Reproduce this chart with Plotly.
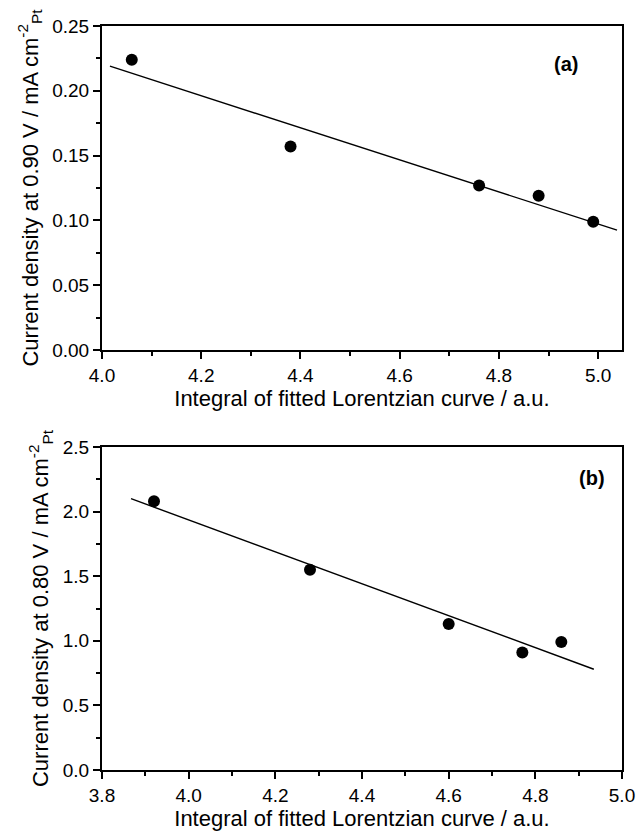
import plotly.graph_objects as go

# Panel (a)
a_x = [4.06, 4.38, 4.76, 4.88, 4.99]
a_y = [0.224, 0.157, 0.127, 0.119, 0.099]
a_fit_x = [4.016, 5.038]
a_fit_y = [0.219, 0.0925]

# Panel (b)
b_x = [3.92, 4.28, 4.60, 4.77, 4.86]
b_y = [2.08, 1.55, 1.13, 0.91, 0.99]
b_fit_x = [3.867, 4.935]
b_fit_y = [2.10, 0.78]

W, H = 636, 831
FONT = "Liberation Sans, Arial, sans-serif"
TICK_SIZE = 19
TITLE_SIZE = 22

fig = go.Figure()
marker = dict(color="black", size=12)
fig.add_trace(go.Scatter(x=a_fit_x, y=a_fit_y, mode="lines", line=dict(color="black", width=1.4),
                         xaxis="x", yaxis="y", showlegend=False))
fig.add_trace(go.Scatter(x=a_x, y=a_y, mode="markers", marker=marker, xaxis="x", yaxis="y", showlegend=False))
fig.add_trace(go.Scatter(x=b_fit_x, y=b_fit_y, mode="lines", line=dict(color="black", width=1.4),
                         xaxis="x2", yaxis="y2", showlegend=False))
fig.add_trace(go.Scatter(x=b_x, y=b_y, mode="markers", marker=marker, xaxis="x2", yaxis="y2", showlegend=False))

xdom = [102 / W, 622 / W]
ydom_a = [1 - 350 / H, 1 - 26 / H]
ydom_b = [1 - 770 / H, 1 - 447 / H]

def axis_style(**kw):
    d = dict(showline=True, linecolor="black", linewidth=2, mirror=True,
             ticks="outside", ticklen=7, tickwidth=1.5, tickcolor="black",
             showgrid=False, zeroline=False, automargin=False,
             tickfont=dict(family=FONT, size=TICK_SIZE, color="black"),
             minor=dict(ticks="outside", ticklen=4, tickwidth=1.5, tickcolor="black", showgrid=False))
    d.update(kw)
    return d

xtitle = "Integral of fitted Lorentzian curve / a.u."
fig.update_layout(
    width=W, height=H,
    margin=dict(l=0, r=0, t=0, b=0),
    paper_bgcolor="white", plot_bgcolor="white",
    xaxis=axis_style(domain=xdom, anchor="y", range=[4.0, 5.048], tick0=4.0, dtick=0.2,
                     tickformat=".1f", minor_dtick=0.1,
                     title=dict(text=xtitle, font=dict(family=FONT, size=TITLE_SIZE, color="black"), standoff=5)),
    yaxis=axis_style(domain=ydom_a, anchor="x", range=[0, 0.25], tick0=0, dtick=0.05,
                     tickformat=".2f", minor_dtick=0.025,
                     title=dict(text="Current density at 0.90 V / mA cm<sup>-2</sup><sub>Pt</sub>",
                                font=dict(family=FONT, size=TITLE_SIZE, color="black"), standoff=8)),
    xaxis2=axis_style(domain=xdom, anchor="y2", range=[3.8, 5.0], tick0=3.8, dtick=0.2,
                      tickformat=".1f", minor_dtick=0.1,
                      title=dict(text=xtitle, font=dict(family=FONT, size=TITLE_SIZE, color="black"), standoff=5)),
    yaxis2=axis_style(domain=ydom_b, anchor="x2", range=[0, 2.5], tick0=0, dtick=0.5,
                      tickformat=".1f", minor_dtick=0.25,
                      title=dict(text="Current density at 0.80 V / mA cm<sup>-2</sup><sub>Pt</sub>",
                                 font=dict(family=FONT, size=TITLE_SIZE, color="black"), standoff=8)),
    annotations=[
        dict(text="<b>(a)</b>", x=4.935, y=0.221, xref="x", yref="y", showarrow=False,
             font=dict(family=FONT, size=20, color="black")),
        dict(text="<b>(b)</b>", x=4.93, y=2.26, xref="x2", yref="y2", showarrow=False,
             font=dict(family=FONT, size=20, color="black")),
    ],
)

fig.write_html("out.html")
